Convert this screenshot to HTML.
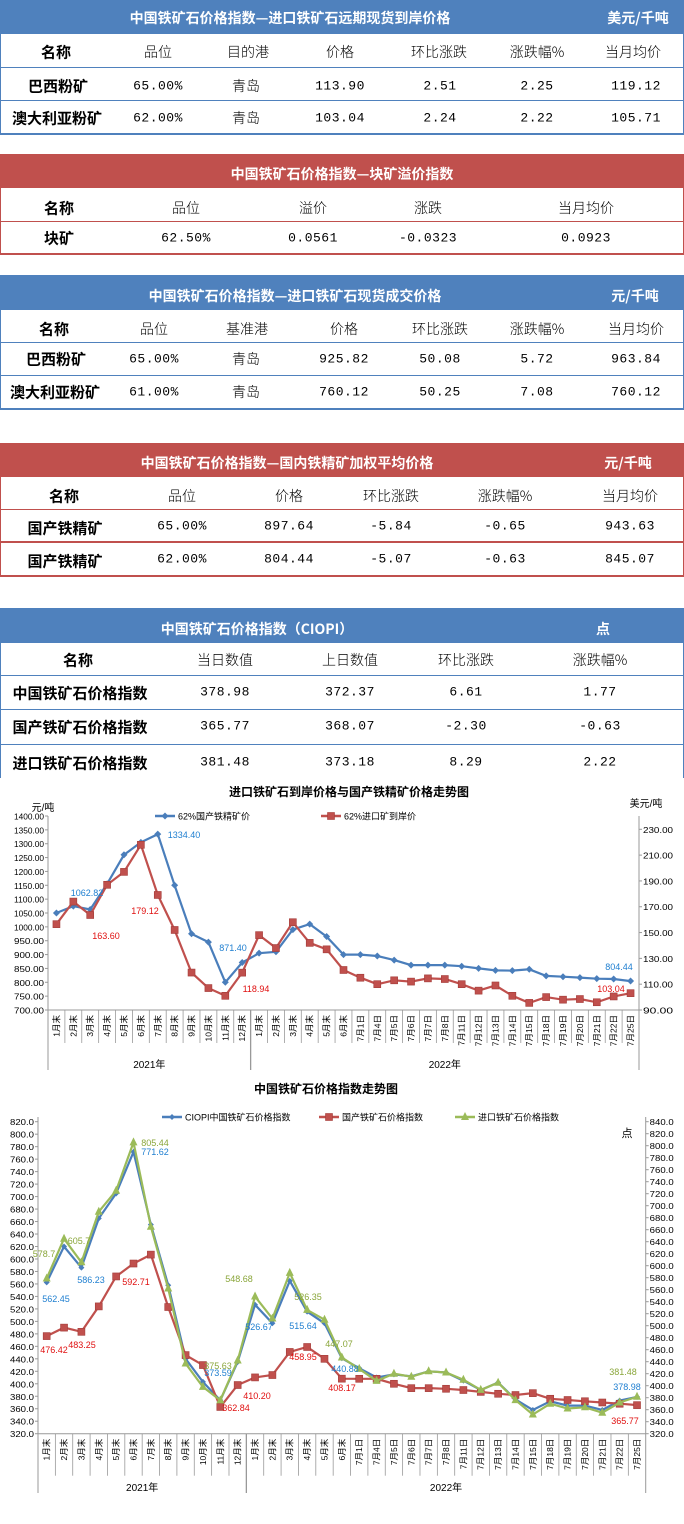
<!DOCTYPE html>
<html><head><meta charset="utf-8">
<style>
*{margin:0;padding:0;box-sizing:border-box}
body{width:684px;height:1524px;background:#fff;position:relative;overflow:hidden;font-family:"Liberation Sans","Noto Sans CJK SC",sans-serif}
.band{position:absolute;left:0;width:684px}
.b{background:#4f81bd}.r{background:#c0504d}
.ln{position:absolute;left:0;width:684px;height:1px}
.lb{background:#4f81bd}.lr{background:#c0504d}
.t{position:absolute;transform:translate(-50%,-50%);white-space:nowrap;color:#000}
.h{color:#fff;font-weight:700;font-size:14px;font-family:"Noto Sans CJK SC",sans-serif}
.n{font-weight:700;font-size:15px;font-family:"Noto Sans CJK SC",sans-serif}
.c{font-size:14px;font-family:"Noto Sans CJK SC",sans-serif;font-weight:300}
.v{font-size:13px;font-family:"Liberation Mono",monospace;letter-spacing:0.5px}
.vl{position:absolute;width:1px}
</style></head><body>

<!-- Table 1 -->
<div class="band b" style="top:0;height:34px"></div>
<div class="t h" style="left:290px;top:18px">中国铁矿石价格指数—进口铁矿石远期现货到岸价格</div>
<div class="t h" style="left:638px;top:18px">美元/千吨</div>
<div class="ln lb" style="top:67px"></div><div class="ln lb" style="top:100px"></div><div class="ln lb" style="top:133px;height:2px"></div>
<div class="vl lb" style="left:0;top:34px;height:100px"></div><div class="vl lb" style="left:683px;top:34px;height:100px"></div>
<div class="t n" style="left:56px;top:52px">名称</div>
<div class="t c" style="left:158px;top:52px">品位</div>
<div class="t c" style="left:248px;top:52px">目的港</div>
<div class="t c" style="left:340px;top:52px">价格</div>
<div class="t c" style="left:439px;top:52px">环比涨跌</div>
<div class="t c" style="left:537px;top:52px">涨跌幅%</div>
<div class="t c" style="left:633px;top:52px">当月均价</div>
<div class="t n" style="left:58px;top:86px">巴西粉矿</div>
<div class="t v" style="left:158px;top:86px">65.00%</div>
<div class="t c" style="left:246px;top:86px">青岛</div>
<div class="t v" style="left:340px;top:86px">113.90</div>
<div class="t v" style="left:440px;top:86px">2.51</div>
<div class="t v" style="left:537px;top:86px">2.25</div>
<div class="t v" style="left:636px;top:86px">119.12</div>
<div class="t n" style="left:57px;top:118px">澳大利亚粉矿</div>
<div class="t v" style="left:158px;top:118px">62.00%</div>
<div class="t c" style="left:246px;top:118px">青岛</div>
<div class="t v" style="left:340px;top:118px">103.04</div>
<div class="t v" style="left:440px;top:118px">2.24</div>
<div class="t v" style="left:537px;top:118px">2.22</div>
<div class="t v" style="left:636px;top:118px">105.71</div>

<!-- Table 2 -->
<div class="band r" style="top:154px;height:34px"></div>
<div class="t h" style="left:342px;top:174px">中国铁矿石价格指数—块矿溢价指数</div>
<div class="ln lr" style="top:221px"></div><div class="ln lr" style="top:253px;height:2px"></div>
<div class="vl lr" style="left:0;top:188px;height:66px"></div><div class="vl lr" style="left:683px;top:188px;height:66px"></div>
<div class="t n" style="left:59px;top:208px">名称</div>
<div class="t c" style="left:186px;top:208px">品位</div>
<div class="t c" style="left:313px;top:208px">溢价</div>
<div class="t c" style="left:428px;top:208px">涨跌</div>
<div class="t c" style="left:586px;top:208px">当月均价</div>
<div class="t n" style="left:59px;top:238px">块矿</div>
<div class="t v" style="left:186px;top:238px">62.50%</div>
<div class="t v" style="left:313px;top:238px">0.0561</div>
<div class="t v" style="left:428px;top:238px">-0.0323</div>
<div class="t v" style="left:586px;top:238px">0.0923</div>

<!-- Table 3 -->
<div class="band b" style="top:275px;height:35px"></div>
<div class="t h" style="left:295px;top:296px">中国铁矿石价格指数—进口铁矿石现货成交价格</div>
<div class="t h" style="left:635px;top:296px">元/千吨</div>
<div class="ln lb" style="top:342px"></div><div class="ln lb" style="top:375px"></div><div class="ln lb" style="top:408px;height:2px"></div>
<div class="vl lb" style="left:0;top:310px;height:99px"></div><div class="vl lb" style="left:683px;top:310px;height:99px"></div>
<div class="t n" style="left:54px;top:329px">名称</div>
<div class="t c" style="left:154px;top:329px">品位</div>
<div class="t c" style="left:247px;top:329px">基准港</div>
<div class="t c" style="left:344px;top:329px">价格</div>
<div class="t c" style="left:440px;top:329px">环比涨跌</div>
<div class="t c" style="left:537px;top:329px">涨跌幅%</div>
<div class="t c" style="left:636px;top:329px">当月均价</div>
<div class="t n" style="left:56px;top:359px">巴西粉矿</div>
<div class="t v" style="left:154px;top:359px">65.00%</div>
<div class="t c" style="left:246px;top:359px">青岛</div>
<div class="t v" style="left:344px;top:359px">925.82</div>
<div class="t v" style="left:440px;top:359px">50.08</div>
<div class="t v" style="left:537px;top:359px">5.72</div>
<div class="t v" style="left:636px;top:359px">963.84</div>
<div class="t n" style="left:55px;top:392px">澳大利亚粉矿</div>
<div class="t v" style="left:154px;top:392px">61.00%</div>
<div class="t c" style="left:246px;top:392px">青岛</div>
<div class="t v" style="left:344px;top:392px">760.12</div>
<div class="t v" style="left:440px;top:392px">50.25</div>
<div class="t v" style="left:537px;top:392px">7.08</div>
<div class="t v" style="left:636px;top:392px">760.12</div>

<!-- Table 4 -->
<div class="band r" style="top:443px;height:34px"></div>
<div class="t h" style="left:287px;top:463px">中国铁矿石价格指数—国内铁精矿加权平均价格</div>
<div class="t h" style="left:628px;top:463px">元/千吨</div>
<div class="ln lr" style="top:509px"></div><div class="ln lr" style="top:541px;height:2px"></div><div class="ln lr" style="top:575px;height:2px"></div>
<div class="vl lr" style="left:0;top:477px;height:100px"></div><div class="vl lr" style="left:683px;top:477px;height:100px"></div>
<div class="t n" style="left:64px;top:496px">名称</div>
<div class="t c" style="left:182px;top:496px">品位</div>
<div class="t c" style="left:289px;top:496px">价格</div>
<div class="t c" style="left:391px;top:496px">环比涨跌</div>
<div class="t c" style="left:505px;top:496px">涨跌幅%</div>
<div class="t c" style="left:630px;top:496px">当月均价</div>
<div class="t n" style="left:65px;top:528px">国产铁精矿</div>
<div class="t v" style="left:182px;top:526px">65.00%</div>
<div class="t v" style="left:289px;top:526px">897.64</div>
<div class="t v" style="left:391px;top:526px">-5.84</div>
<div class="t v" style="left:505px;top:526px">-0.65</div>
<div class="t v" style="left:630px;top:526px">943.63</div>
<div class="t n" style="left:65px;top:561px">国产铁精矿</div>
<div class="t v" style="left:182px;top:559px">62.00%</div>
<div class="t v" style="left:289px;top:559px">804.44</div>
<div class="t v" style="left:391px;top:559px">-5.07</div>
<div class="t v" style="left:505px;top:559px">-0.63</div>
<div class="t v" style="left:630px;top:559px">845.07</div>

<!-- Table 5 -->
<div class="band b" style="top:608px;height:35px"></div>
<div class="t h" style="left:257px;top:629px">中国铁矿石价格指数（CIOPI）</div>
<div class="t h" style="left:603px;top:629px">点</div>
<div class="ln lb" style="top:675px"></div><div class="ln lb" style="top:709px"></div><div class="ln lb" style="top:744px"></div>
<div class="vl lb" style="left:0;top:643px;height:135px"></div><div class="vl lb" style="left:683px;top:643px;height:135px"></div>
<div class="t n" style="left:78px;top:660px">名称</div>
<div class="t c" style="left:225px;top:660px">当日数值</div>
<div class="t c" style="left:350px;top:660px">上日数值</div>
<div class="t c" style="left:466px;top:660px">环比涨跌</div>
<div class="t c" style="left:600px;top:660px">涨跌幅%</div>
<div class="t n" style="left:80px;top:693px">中国铁矿石价格指数</div>
<div class="t v" style="left:225px;top:692px">378.98</div>
<div class="t v" style="left:350px;top:692px">372.37</div>
<div class="t v" style="left:466px;top:692px">6.61</div>
<div class="t v" style="left:600px;top:692px">1.77</div>
<div class="t n" style="left:80px;top:727px">国产铁矿石价格指数</div>
<div class="t v" style="left:225px;top:726px">365.77</div>
<div class="t v" style="left:350px;top:726px">368.07</div>
<div class="t v" style="left:466px;top:726px">-2.30</div>
<div class="t v" style="left:600px;top:726px">-0.63</div>
<div class="t n" style="left:80px;top:763px">进口铁矿石价格指数</div>
<div class="t v" style="left:225px;top:762px">381.48</div>
<div class="t v" style="left:350px;top:762px">373.18</div>
<div class="t v" style="left:466px;top:762px">8.29</div>
<div class="t v" style="left:600px;top:762px">2.22</div>

<svg id="ch" width="684" height="1524" style="position:absolute;left:0;top:0" xmlns="http://www.w3.org/2000/svg" font-family="Liberation Sans, Noto Sans CJK SC, sans-serif">
<text x="349" y="796" font-size="12" font-weight="700" text-anchor="middle">进口铁矿石到岸价格与国产铁精矿价格走势图</text>
<text x="43" y="811" font-size="10" text-anchor="middle">元/吨</text>
<text x="646" y="807" font-size="10" text-anchor="middle">美元/吨</text>
<text x="326" y="1093" font-size="12" font-weight="700" text-anchor="middle">中国铁矿石价格指数走势图</text>
<text x="627" y="1137" font-size="11" text-anchor="middle">点</text>
<g id="g"></g>
</svg>
<script>
var g=document.getElementById('g'),NS='http://www.w3.org/2000/svg';
function el(t,a,txt){var e=document.createElementNS(NS,t);for(var k in a)e.setAttribute(k,a[k]);if(txt!=null)e.textContent=txt;g.appendChild(e);return e;}
var cats=['1月末','2月末','3月末','4月末','5月末','6月末','7月末','8月末','9月末','10月末','11月末','12月末','1月末','2月末','3月末','4月末','5月末','6月末','7月1日','7月4日','7月5日','7月6日','7月7日','7月8日','7月11日','7月12日','7月13日','7月14日','7月15日','7月18日','7月19日','7月20日','7月21日','7月22日','7月25日'];
function mk(type,x,y,c,s){
 if(type=='d')el('polygon',{points:(x)+','+(y-s)+' '+(x+s)+','+y+' '+x+','+(y+s)+' '+(x-s)+','+y,fill:c});
 else if(type=='s')el('rect',{x:x-s,y:y-s,width:2*s,height:2*s,fill:c,stroke:'#a33b38','stroke-width':0.6});
 else el('polygon',{points:x+','+(y-s-1)+' '+(x+s)+','+(y+s-1)+' '+(x-s)+','+(y+s-1),fill:c});
}
function chart(o){
 var n=35,w=(o.x1-o.x0)/n;
 el('line',{x1:o.x0,y1:o.yt,x2:o.x0,y2:o.ybot,stroke:'#999','stroke-width':1});
 el('line',{x1:o.x1,y1:o.yt,x2:o.x1,y2:o.ybot,stroke:'#999','stroke-width':1});
 el('line',{x1:o.x0,y1:o.yb,x2:o.x1,y2:o.yb,stroke:'#999','stroke-width':1});
 var xs=o.x0+12*w;el('line',{x1:xs,y1:o.yb,x2:xs,y2:o.ybot,stroke:'#999','stroke-width':1.3});
 for(var i=1;i<n;i++){if(i!=12)el('line',{x1:o.x0+i*w,y1:o.yb,x2:o.x0+i*w,y2:o.yb+o.sep,stroke:'#999','stroke-width':0.8});}
 for(var i=0;i<n;i++){var cx=o.x0+(i+.5)*w+3,cy=o.yb+5;el('text',{x:cx,y:cy,'font-size':o.cf,'text-anchor':'end',transform:'rotate(-90 '+cx+' '+cy+')'},cats[i]);}
 el('text',{x:(o.x0+xs)/2,y:o.yy,'font-size':10,'text-anchor':'middle'},'2021年');
 el('text',{x:(xs+o.x1)/2,y:o.yy,'font-size':10,'text-anchor':'middle'},'2022年');
 o.lt.forEach(function(v){var y=o.ly(v);el('line',{x1:o.x0-3,y1:y,x2:o.x0,y2:y,stroke:'#999'});el('text',{x:o.x0-4,y:y+3.5,'font-size':o.tf,'text-anchor':'end',textLength:o.tl,lengthAdjust:'spacingAndGlyphs'},v.toFixed(o.dec));});
 o.rt.forEach(function(v){var y=o.ry(v);el('line',{x1:o.x1,y1:y,x2:o.x1+3,y2:y,stroke:'#999'});el('text',{x:o.x1+4,y:y+3.5,'font-size':o.tf,textLength:o.tl,lengthAdjust:'spacingAndGlyphs'},v.toFixed(o.dec));});
 o.series.forEach(function(s){var f=s.r?o.ry:o.ly,p=s.d.map(function(v,i){return [o.x0+(i+.5)*w,f(v)];});
  el('polyline',{points:p.map(function(q){return q[0].toFixed(1)+','+q[1].toFixed(1)}).join(' '),fill:'none',stroke:s.c,'stroke-width':2.2});
  p.forEach(function(q){mk(s.m,q[0],q[1],s.c,s.ms);});
  el('line',{x1:s.lx,y1:o.legy,x2:s.lx+20,y2:o.legy,stroke:s.c,'stroke-width':2.5});mk(s.m,s.lx+10,o.legy,s.c,s.ms);
  el('text',{x:s.lx+23,y:o.legy+3.5,'font-size':9},s.name);
 });
 o.labels.forEach(function(l){el('text',{x:l[0],y:l[1]+3,'font-size':9,'text-anchor':'middle',fill:l[3]},l[2]);});
}
var B='#4a7ebb',R='#c0504d',G='#9bbb59',LB='#1f7fd0',LR='#e01010',LG='#8aa63a';
chart({x0:48,x1:639,yt:816,yb:1010,ybot:1070,sep:33,yy:1068,cf:8.5,tf:8.5,tl:30,dec:2,legy:816,
 ly:function(v){return 816+(1400-v)*194/700},ry:function(v){return 1010-(v-90)*180.7/140},
 lt:[700,750,800,850,900,950,1000,1050,1100,1150,1200,1250,1300,1350,1400],rt:[90,110,130,150,170,190,210,230],
 series:[
 {name:'62%国产铁精矿价',c:B,m:'d',ms:3.5,lx:155,d:[1050,1075,1062.8,1155,1260,1305,1334.4,1150,975,945,800,871.4,905,910,990,1010,965,900,900,895,880,862,862,862,858,850,843,842,847,823,820,817,813,812,804.44]},
 {name:'62%进口矿到岸价',c:R,m:'s',ms:3.5,lx:321,r:1,d:[156.5,174,163.6,187,197,218,179.12,152,119,107,101,118.94,148,138,158,142,137,121,115,110,113,112,114.5,114,110,105,109,101,95.5,100,98,98.5,96,100.5,103.04]}],
 labels:[[184,835,'1334.40',LB],[87,893,'1062.82',LB],[233,948,'871.40',LB],[619,967,'804.44',LB],[145,911,'179.12',LR],[106,936,'163.60',LR],[256,989,'118.94',LR],[611,989,'103.04',LR]]});
chart({x0:38,x1:645.7,yt:1117,yb:1433.7,ybot:1493,sep:42,yy:1491,cf:8.5,tf:8.5,tl:24,dec:1,legy:1117,
 ly:function(v){return 1121.7+(820-v)*0.624},ry:function(v){return 1121.7+(840-v)*0.6},
 lt:(function(){var a=[];for(var v=320;v<=820;v+=20)a.push(v);return a})(),rt:(function(){var a=[];for(var v=320;v<=840;v+=20)a.push(v);return a})(),
 series:[
 {name:'CIOPI中国铁矿石价格指数',c:B,m:'d',ms:3,lx:162,d:[562.45,620,586.23,665,705,771.62,655,558,440,403,373.59,435,526.67,497,565,515.64,497,440.88,425,410,415,412,420,418,405,390,402,375,358,372,365,365,358,373,378.98]},
 {name:'国产铁矿石价格指数',c:R,m:'s',ms:3.5,lx:319,d:[476.42,490,483.25,524,572,592.71,607,523,446,430,362.84,398,410.2,414,451,458.95,440,408.17,408,408,400,393,393,392,390,387,384,382,385,376,374,372,370,368,365.77]},
 {name:'进口铁矿石价格指数',c:G,m:'t',ms:4,lx:455,r:1,d:[578.7,645,605.7,690,725,805.44,665,562,437,398,375.63,442,548.68,512,588,526.35,510,447.07,428,408,420,415,424,422,410,393,405,376,352,370,362,364,355,372,381.48]}],
 labels:[[155,1143,'805.44',LG],[155,1152,'771.62',LB],[44,1254,'578.7',LG],[79,1241,'605.7',LG],[91,1280,'586.23',LB],[56,1299,'562.45',LB],[136,1282,'592.71',LR],[54,1350,'476.42',LR],[82,1345,'483.25',LR],[239,1279,'548.68',LG],[308,1297,'526.35',LG],[259,1327,'526.67',LB],[303,1326,'515.64',LB],[339,1344,'447.07',LG],[345,1369,'440.88',LB],[303,1357,'458.95',LR],[342,1388,'408.17',LR],[257,1396,'410.20',LR],[218,1366,'375.63',LG],[218,1373,'373.59',LB],[236,1408,'362.84',LR],[623,1372,'381.48',LG],[627,1387,'378.98',LB],[625,1421,'365.77',LR]]});
</script>
</body></html>
